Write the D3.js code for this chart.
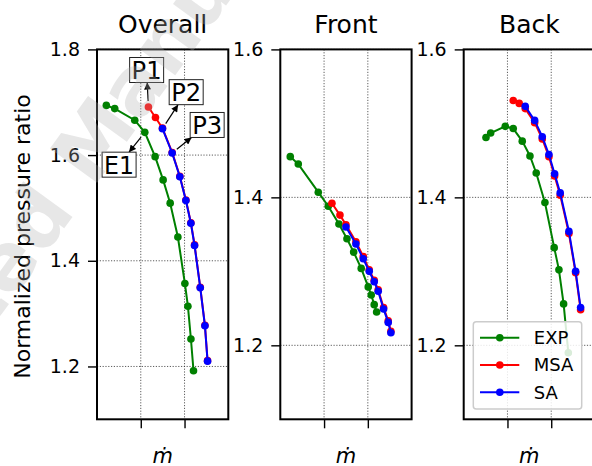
<!DOCTYPE html>
<html>
<head>
<meta charset="utf-8">
<script src="https://cdn.jsdelivr.net/npm/d3@7"></script>
<style>
  body { margin: 0; background: #fff; }
  svg { display: block; font-family: "DejaVu Sans", sans-serif; }
</style>
</head>
<body>
<div id="chart"></div>
<script>
// values (x is mass flow, unlabeled axis)
var titles = ["Overall", "Front", "Back"];
var seriesNames = ["EXP", "MSA", "SA"];
var seriesColors = ["green", "red", "blue"];
var xTicks = [1, 2];
var yTicksOverall = [1.2, 1.4, 1.6, 1.8];
var yTicksSide = [1.2, 1.4, 1.6];

var expOverallX = [0.213, 0.405, 0.863, 1.092, 1.328, 1.511, 1.672, 1.848, 2.008, 2.077, 2.146, 2.205];
var expOverall  = [1.694, 1.688, 1.666, 1.643, 1.597, 1.553, 1.509, 1.445, 1.357, 1.314, 1.252, 1.192];
var msaOverallX = [1.175, 1.336, 1.496, 1.717, 1.893, 2.031, 2.145, 2.229, 2.359, 2.466, 2.526];
var msaOverall  = [1.691, 1.671, 1.651, 1.605, 1.560, 1.515, 1.472, 1.430, 1.350, 1.278, 1.211];
var saOverallX  = [1.496, 1.717, 1.893, 2.031, 2.145, 2.229, 2.359, 2.466, 2.526];
var saOverall   = [1.650, 1.604, 1.559, 1.514, 1.471, 1.429, 1.349, 1.277, 1.210];

var expFrontX = [0.228, 0.411, 0.868, 1.096, 1.340, 1.523, 1.676, 1.849, 2.009, 2.078, 2.146, 2.201];
var expFront  = [1.455, 1.445, 1.407, 1.388, 1.364, 1.344, 1.326, 1.304, 1.279, 1.268, 1.255, 1.245];
var msaFrontX = [1.180, 1.363, 1.500, 1.728, 1.895, 2.032, 2.146, 2.237, 2.360, 2.466, 2.527];
var msaFront  = [1.392, 1.376, 1.363, 1.340, 1.320, 1.302, 1.288, 1.275, 1.251, 1.233, 1.219];
var saFrontX  = [1.500, 1.728, 1.895, 2.032, 2.146, 2.237, 2.360, 2.466, 2.527];
var saFront   = [1.360, 1.337, 1.317, 1.300, 1.286, 1.273, 1.249, 1.231, 1.217];

var expBackX = [0.509, 0.616, 0.950, 1.132, 1.338, 1.514, 1.657, 1.856, 2.068, 2.176, 2.283, 2.390];
var expBack  = [1.481, 1.487, 1.496, 1.493, 1.476, 1.456, 1.433, 1.393, 1.332, 1.302, 1.256, 1.190];
var msaBackX = [1.132, 1.269, 1.406, 1.621, 1.795, 1.947, 2.077, 2.205, 2.404, 2.557, 2.671];
var msaBack  = [1.531, 1.527, 1.520, 1.501, 1.479, 1.455, 1.429, 1.403, 1.351, 1.298, 1.248];
var saBackX  = [1.406, 1.621, 1.795, 1.947, 2.077, 2.205, 2.404, 2.557, 2.671];
var saBack   = [1.523, 1.504, 1.482, 1.458, 1.432, 1.406, 1.354, 1.300, 1.251];

// annotations on the Overall panel: label, series index, point index
var noteLabels = ["P1", "P2", "P3", "E1"];
var noteSeries = [1, 2, 2, 0];
var notePoint  = [0, 0, 1, 3];

var svgWidth = 592;
var svgHeight = 466;
var panelLefts = [97, 280.3, 463.7];
var panelW = 131.3;
var axTop = 49.4, axBottom = 419.3;
var noteOffsets = [[-1.8, -37], [23.7, -36.5], [35, -28], [-25.7, 32.3]];

var panels = [
  { title: titles[0], yDomain: [1.1, 1.8], yTicks: yTicksOverall,
    xs: [expOverallX, msaOverallX, saOverallX], ys: [expOverall, msaOverall, saOverall] },
  { title: titles[1], yDomain: [1.1, 1.6], yTicks: yTicksSide,
    xs: [expFrontX, msaFrontX, saFrontX], ys: [expFront, msaFront, saFront] },
  { title: titles[2], yDomain: [1.1, 1.6], yTicks: yTicksSide,
    xs: [expBackX, msaBackX, saBackX], ys: [expBack, msaBack, saBack] }
];

var svg = d3.select("#chart")
  .append("svg")
  .attr("width", svgWidth)
  .attr("height", svgHeight);

svg.append("defs").append("marker")
  .attr("id", "arrowhead")
  .attr("viewBox", "0 0 10 10")
  .attr("refX", 10)
  .attr("refY", 5)
  .attr("markerUnits", "userSpaceOnUse")
  .attr("markerWidth", 8)
  .attr("markerHeight", 7)
  .attr("orient", "auto")
  .append("path")
  .attr("d", "M0,0L10,5L0,10z")
  .attr("fill", "black");

var overallScales = null;

panels.forEach(function(p, i) {
  var x = d3.scaleLinear().domain([0, 3]).range([panelLefts[i], panelLefts[i] + panelW]);
  var y = d3.scaleLinear().domain(p.yDomain).range([axBottom, axTop]);
  if (i === 0) overallScales = { x: x, y: y, panel: p };

  var g = svg.append("g");

  // grid
  g.selectAll(".gx").data(xTicks).enter().append("line")
    .attr("x1", d => x(d)).attr("x2", d => x(d))
    .attr("y1", axTop).attr("y2", axBottom)
    .attr("stroke", "#333").attr("stroke-width", 0.8)
    .attr("stroke-dasharray", "1.2,1.6");
  g.selectAll(".gy").data(p.yTicks).enter().append("line")
    .attr("x1", x.range()[0]).attr("x2", x.range()[1])
    .attr("y1", d => y(d)).attr("y2", d => y(d))
    .attr("stroke", "#333").attr("stroke-width", 0.8)
    .attr("stroke-dasharray", "1.2,1.6");

  // series
  p.ys.forEach(function(vals, s) {
    var pts = vals.map((v, k) => [p.xs[s][k], v]);
    var sg = g.append("g");
    sg.append("path")
      .datum(pts)
      .attr("fill", "none")
      .attr("stroke", seriesColors[s])
      .attr("stroke-width", 2)
      .attr("d", d3.line().x(d => x(d[0])).y(d => y(d[1])));
    sg.selectAll("circle").data(pts).enter().append("circle")
      .attr("cx", d => x(d[0]))
      .attr("cy", d => y(d[1]))
      .attr("r", 3.8)
      .attr("fill", seriesColors[s]);
  });

  // axes
  var leftAxis = d3.axisLeft(y).tickValues(p.yTicks).tickSize(9).tickPadding(8)
    .tickFormat(d3.format(".1f"));
  var bottomAxis = d3.axisBottom(x).tickValues(xTicks).tickSize(9).tickFormat("");

  g.append("g")
    .attr("transform", `translate(${x.range()[0]},0)`)
    .call(leftAxis)
    .call(a => a.select(".domain").remove())
    .call(a => a.selectAll("line").attr("stroke", "black").attr("stroke-width", 1.4))
    .call(a => a.selectAll("text").attr("font-size", "19px").attr("fill", "black")
      .attr("font-family", "DejaVu Sans"));

  g.append("g")
    .attr("transform", `translate(0,${axBottom})`)
    .call(bottomAxis)
    .call(a => a.select(".domain").remove())
    .call(a => a.selectAll("line").attr("stroke", "black").attr("stroke-width", 1.4));

  // spines
  g.append("rect")
    .attr("x", x.range()[0]).attr("y", axTop)
    .attr("width", panelW).attr("height", axBottom - axTop)
    .attr("fill", "none").attr("stroke", "black").attr("stroke-width", 2);

  // title and x label
  g.append("text")
    .attr("x", x.range()[0] + panelW / 2)
    .attr("y", 33)
    .attr("text-anchor", "middle")
    .attr("font-size", "25px")
    .text(p.title);

  g.append("text")
    .attr("x", x.range()[0] + panelW / 2)
    .attr("y", 462.5)
    .attr("text-anchor", "middle")
    .attr("font-size", "21px")
    .attr("font-style", "italic")
    .text("ṁ");
});

// y label
svg.append("text")
  .attr("transform", "translate(29.5,236.5) rotate(-90)")
  .attr("text-anchor", "middle")
  .attr("font-size", "22px")
  .text("Normalized pressure ratio");

// annotations
var notes = svg.append("g");
noteLabels.forEach(function(lab, k) {
  var s = noteSeries[k], idx = notePoint[k];
  var px = overallScales.x(overallScales.panel.xs[s][idx]);
  var py = overallScales.y(overallScales.panel.ys[s][idx]);
  var cx = px + noteOffsets[k][0], cy = py + noteOffsets[k][1];
  var bw = 34, bh = 25;

  // arrow from point to box edge
  var dx = cx - px, dy = cy - py;
  var t = Math.min((bw / 2) / Math.abs(dx || 1e-9), (bh / 2) / Math.abs(dy || 1e-9));
  var len = Math.hypot(dx, dy);
  var ex = cx - dx * t, ey = cy - dy * t;
  var sx = px + dx / len * 6, sy = py + dy / len * 6;
  notes.append("line")
    .attr("x1", sx).attr("y1", sy)
    .attr("x2", ex).attr("y2", ey)
    .attr("stroke", "black").attr("stroke-width", 1.2)
    .attr("marker-end", "url(#arrowhead)");

  notes.append("rect")
    .attr("x", cx - bw / 2).attr("y", cy - bh / 2)
    .attr("width", bw).attr("height", bh)
    .attr("fill", "white").attr("stroke", "#222").attr("stroke-width", 1);
  notes.append("text")
    .attr("x", cx).attr("y", cy + 1)
    .attr("text-anchor", "middle")
    .attr("dominant-baseline", "central")
    .attr("font-size", "24px")
    .attr("textLength", 30)
    .attr("lengthAdjust", "spacingAndGlyphs")
    .text(lab);
});

// legend in the Back panel
var legend = svg.append("g").attr("transform", "translate(473.3,321.7)");
legend.append("rect")
  .attr("width", 108.4).attr("height", 87.3)
  .attr("rx", 3)
  .attr("fill", "white").attr("fill-opacity", 0.85)
  .attr("stroke", "#cccccc").attr("stroke-width", 1.5);
seriesNames.forEach(function(name, s) {
  var yy = 16 + s * 27.3;
  legend.append("line")
    .attr("x1", 6.7).attr("x2", 46).attr("y1", yy).attr("y2", yy)
    .attr("stroke", seriesColors[s]).attr("stroke-width", 2);
  legend.append("circle")
    .attr("cx", 26.5).attr("cy", yy).attr("r", 3.8)
    .attr("fill", seriesColors[s]);
  legend.append("text")
    .attr("x", 60.5).attr("y", yy)
    .attr("dominant-baseline", "central")
    .attr("font-size", "18px")
    .text(name);
});

// faint watermark across the upper left
svg.append("text")
  .attr("transform", "translate(110,165) rotate(-54)")
  .attr("text-anchor", "middle")
  .attr("font-size", "80px")
  .attr("font-weight", "bold")
  .attr("fill", "#b0b0b0")
  .attr("fill-opacity", 0.3)
  .style("pointer-events", "none")
  .text("Accepted Manuscript");
</script>
</body>
</html>
